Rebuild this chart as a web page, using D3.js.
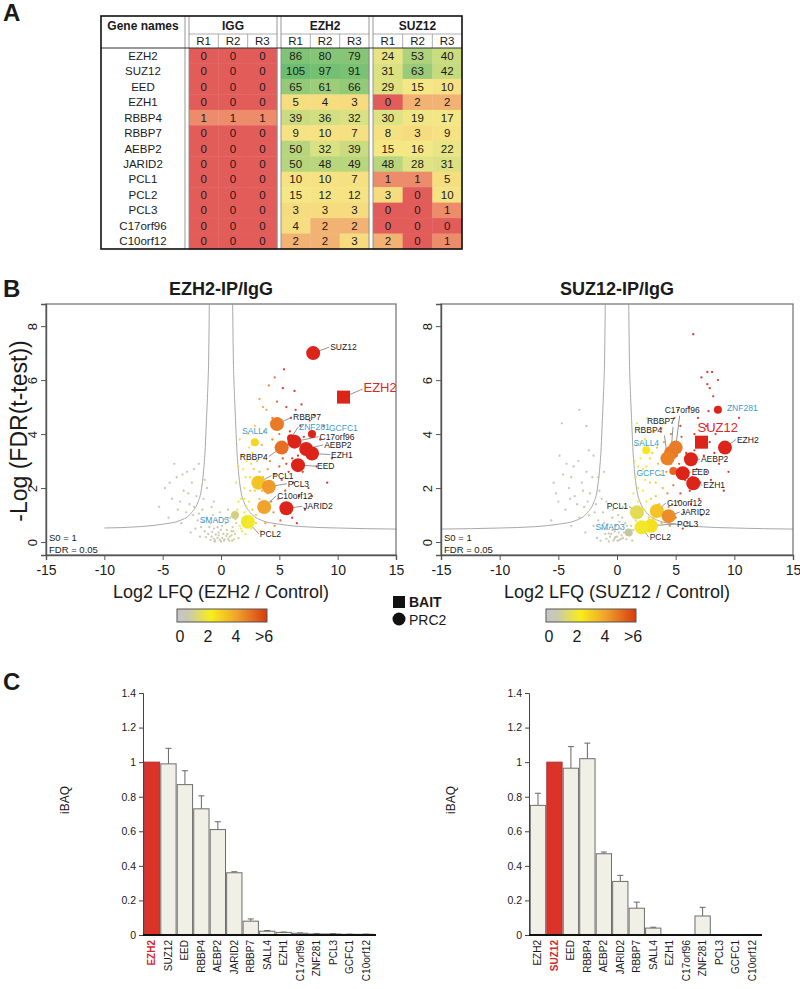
<!DOCTYPE html>
<html><head><meta charset="utf-8">
<script src="https://cdn.jsdelivr.net/npm/d3@7"></script>
<style>
body{margin:0;background:#fff}
svg{display:block}
text{font-family:"Liberation Sans",Arial,Helvetica,sans-serif}
</style>
</head><body>
<svg id="fig" width="800" height="989"></svg>
<script>
// ---------------- DATA ----------------
const tableGenes = ["EZH2","SUZ12","EED","EZH1","RBBP4","RBBP7","AEBP2","JARID2","PCL1","PCL2","PCL3","C17orf96","C10orf12"];
const tableGroups = ["IGG","EZH2","SUZ12"];
const tableReps = ["R1","R2","R3"];
const iggCounts = [[0,0,0],[0,0,0],[0,0,0],[0,0,0],[1,1,1],[0,0,0],[0,0,0],[0,0,0],[0,0,0],[0,0,0],[0,0,0],[0,0,0],[0,0,0]];
const ezh2Counts = [[86,80,79],[105,97,91],[65,61,66],[5,4,3],[39,36,32],[9,10,7],[50,32,39],[50,48,49],[10,10,7],[15,12,12],[3,3,3],[4,2,2],[2,2,3]];
const suz12Counts = [[24,53,40],[31,63,42],[29,15,10],[0,2,2],[30,19,17],[8,3,9],[15,16,22],[48,28,31],[1,1,5],[3,0,10],[0,0,1],[0,0,0],[2,0,1]];

const volcanoXTicks = [-15,-10,-5,0,5,10,15];
const volcanoYTicks = [0,2,4,6,8];
// threshold curve (|log2 ratio|, -log FDR), right branch; mirrored for left
const thresholdCurve = [[1.0,8.8],[1.05,7.0],[1.15,5.5],[1.25,4.5],[1.35,3.5],[1.5,2.6],[1.7,1.9],[2.0,1.45],[2.5,1.1],[3.5,0.8],[5,0.66],[7,0.57],[10,0.52],[15,0.48]];

// background proteins [log2 ratio, -log FDR, colour value]
const ezh2Bg = [
 [-0.5,0.05,0.3],[0,0.02,0.2],[0.3,0.1,0.4],[-0.3,0.15,0.3],[0.6,0.12,0.5],[-0.8,0.2,0.3],[0.9,0.25,0.6],[-1.1,0.3,0.3],[0.2,0.3,0.4],[-0.2,0.35,0.3],
 [1.2,0.3,0.8],[-1.4,0.4,0.3],[0.5,0.45,0.5],[-0.6,0.5,0.3],[1.0,0.55,0.7],[-1.7,0.55,0.2],[0.1,0.6,0.4],[-0.9,0.7,0.3],[-2.0,0.8,0.2],[1.3,0.7,0.9],
 [-1.2,0.9,0.3],[-2.4,1.0,0.2],[-0.4,0.8,0.3],[-3.0,1.1,0.2],[-1.6,1.2,0.2],[-2.7,1.4,0.2],[-3.5,1.5,0.2],[-2.1,1.7,0.2],[-4.2,1.6,0.2],[-3.2,1.9,0.2],
 [-2.5,2.2,0.2],[-4.8,2.0,0.2],[-3.8,2.4,0.2],[-5.3,1.3,0.2],[-4.5,0.9,0.2],[-2.9,2.6,0.2],[-1.9,2.9,0.2],[-3.4,0.7,0.2],[-0.7,1.0,0.3],[0.8,0.9,0.6],
 [-0.1,1.1,0.4],[1.4,1.0,1.0],[-1.5,1.6,0.2],[-2.2,0.5,0.2],[0.7,0.05,0.5],[-0.9,0.08,0.3],[1.5,0.15,0.9],[-1.8,0.2,0.2],[0.4,0.7,0.5],[-2.6,0.35,0.2],
 [-0.2,0.25,0.3],[0.1,0.15,0.4],[-0.6,0.12,0.3],[0.45,0.22,0.5],[-1.3,0.18,0.3],[1.1,0.1,0.7],[-4.0,2.9,0.2],[-1.4,2.3,0.2],[-0.6,1.5,0.3],[0.9,0.4,0.6],
 [-0.1,0.08,0.3],[0.25,0.05,0.4],[0.55,0.3,0.5],[-0.45,0.28,0.3],[0.75,0.2,0.5],[-0.75,0.38,0.3],[1.05,0.4,0.7],[-1.0,0.55,0.3],[0.35,0.85,0.4],[-0.3,0.55,0.3],
 [1.25,0.85,0.9],[-1.5,0.75,0.2],[0.6,1.2,0.5],[-0.8,1.3,0.3],[-2.3,1.3,0.2],[-1.9,1.05,0.2],[-3.7,1.2,0.2],[-2.8,1.8,0.2],[-4.4,2.2,0.2],[-1.2,2.0,0.2],
 [-3.3,2.5,0.2],[-2.3,2.7,0.2],[0.0,0.45,0.3],[-0.55,0.02,0.3],[0.95,0.05,0.6],
 [1.6,0.6,2],[1.9,0.9,2],[2.2,1.3,2.5],[1.7,1.6,2],[2.5,1.9,3],[2.1,2.4,2.5],[2.8,2.7,3],[1.8,3.2,2],[2.4,3.5,2.5],[3.0,1.0,3],
 [3.3,1.6,3.5],[2.6,0.5,2.5],[3.6,2.4,3.5],[3.1,3.0,3.5],[2.0,2.0,2],[3.8,0.7,4],[1.5,2.8,1.8],[2.3,4.0,2.5],[3.5,3.6,3.5],[2.9,4.3,3],
 [1.4,1.2,1.8],[4.0,1.8,4],[2.7,1.2,3],[3.4,0.4,3],[1.3,2.2,1.5],[1.8,0.4,2],[2.3,0.7,2.3],[2.0,1.6,2.2],[3.2,2.1,3.3],[2.6,2.9,2.8],
 [1.7,0.5,2],[2.0,1.1,2.2],[2.4,1.5,2.5],[2.9,1.9,3],[1.9,2.7,2],[2.7,3.3,2.8],[3.3,2.6,3.4],[2.2,3.0,2.3],[1.5,1.5,1.8],[3.0,0.7,3],
 [2.5,2.4,2.6],[3.7,3.1,3.8],[1.6,3.8,1.9],[2.1,0.3,2.2],[3.5,1.9,3.6],
 [4.2,3.0,4.5],[4.6,2.5,5],[5.0,4.0,5],[4.4,4.6,4.5],[5.3,3.1,5.5],[5.8,2.6,6],[4.9,1.6,5],[5.5,1.9,5.5],[6.2,2.2,6],[6.7,1.7,6],
 [7.0,2.6,6],[5.1,0.8,5],[4.5,1.1,4.5],[6.0,4.6,6],[6.8,4.3,6],[3.9,4.9,4],[4.8,5.2,5],[5.4,6.4,6],[4.1,5.8,4.5],[3.3,5.3,4],
 [6.3,5.6,6],[7.5,2.0,6],[8.2,2.8,6],[9.1,2.2,6],[7.2,1.2,6],[6.1,0.9,6],[5.7,3.6,6],[4.7,3.5,5],[3.7,4.1,4],[8.0,4.7,6],
 [5.6,5.0,6],[6.6,3.2,6],[4.3,2.1,4.5],[5.2,2.3,5.3],[3.9,1.3,4],[4.6,0.6,4.5],[5.9,1.4,6],[6.5,0.7,6],[7.8,1.7,6],[8.5,3.8,6],
 [4.4,3.8,4.6],[5.0,2.8,5.2],[5.6,2.9,5.8],[6.1,3.1,6],[4.8,4.4,5],[5.9,4.1,6],[6.4,4.9,6],[7.1,3.9,6],[7.6,4.5,6],[4.3,1.5,4.5],
 [4.0,2.7,4.2],[5.3,5.7,6],[6.9,5.1,6],[8.8,4.3,6],[9.5,3.1,6],[3.6,5.0,4],[4.6,6.1,5]
];
const suz12Bg = [
 [-0.3,0.05,0.3],[0.2,0.08,0.3],[0.5,0.15,0.4],[-0.6,0.2,0.3],[0.8,0.1,0.5],[-1.0,0.3,0.3],[1.1,0.25,0.6],[-0.2,0.4,0.3],[0.3,0.5,0.4],[-1.3,0.5,0.3],
 [1.4,0.45,0.8],[-0.8,0.65,0.3],[0.7,0.7,0.5],[-1.6,0.8,0.2],[-2.0,0.6,0.2],[1.6,0.8,1.0],[-0.4,0.9,0.3],[-2.4,1.0,0.2],[0.1,1.0,0.3],[-1.2,1.1,0.2],
 [-2.8,1.3,0.2],[-3.2,0.9,0.2],[-1.8,1.4,0.2],[-3.6,1.7,0.2],[-2.3,1.8,0.2],[-4.1,2.0,0.2],[-3.0,2.2,0.2],[-4.6,2.5,0.2],[-3.7,2.8,0.2],[-2.6,2.6,0.2],
 [-5.0,1.5,0.2],[-4.4,1.2,0.2],[-5.4,2.2,0.2],[-3.3,3.0,0.2],[-4.9,3.2,0.2],[-2.1,2.4,0.2],[-1.5,1.9,0.2],[-0.9,1.5,0.2],[0.5,1.3,0.4],[-5.6,0.8,0.2],
 [-3.9,0.6,0.2],[-2.7,0.35,0.2],[-1.7,0.15,0.2],[1.9,0.35,1.2],[1.3,0.05,0.6],[-0.7,0.02,0.3],[0.0,0.2,0.3],[-0.1,0.6,0.3],[0.9,0.4,0.5],[-1.4,0.05,0.3],
 [-0.5,0.3,0.3],[0.4,0.25,0.3],[-0.2,0.12,0.3],[0.15,0.35,0.3],[-0.9,0.12,0.3],[-3.2,4.9,0.1],[-4.7,4.4,0.1],[-2.6,4.3,0.1],[-1.1,2.6,0.2],[-2.0,3.2,0.2],
 [-0.15,0.18,0.3],[0.35,0.12,0.3],[0.6,0.35,0.4],[-0.4,0.45,0.3],[0.85,0.6,0.5],[-0.7,0.32,0.3],[1.2,0.6,0.7],[-1.1,0.7,0.3],[0.2,0.75,0.3],[-0.35,1.2,0.3],
 [1.3,1.1,0.8],[-1.9,1.1,0.2],[-2.5,1.5,0.2],[-3.4,1.4,0.2],[-4.0,1.6,0.2],[-2.9,1.9,0.2],[-3.9,2.4,0.2],[-1.3,1.6,0.2],[-5.2,1.8,0.2],[-4.3,2.9,0.2],
 [-2.4,3.4,0.2],[-1.6,2.4,0.2],[0.05,0.05,0.3],[-0.9,0.5,0.3],[0.45,0.9,0.4],
 [1.5,0.9,2],[1.8,1.5,2],[2.2,1.9,2.3],[1.6,2.4,1.8],[2.5,2.8,2.6],[2.0,3.1,2.2],[2.9,1.6,3],[3.3,2.2,3.2],[2.7,0.9,2.8],[3.6,1.4,3.4],
 [2.4,3.8,2.5],[3.0,3.3,3],[1.9,4.2,2],[3.5,2.9,3.5],[2.3,1.2,2.4],[1.4,1.8,1.7],[3.9,2.0,3.8],[3.2,4.1,3.3],[2.6,4.6,2.7],[1.7,3.6,1.9],
 [3.8,0.7,3.6],[2.1,0.5,2.2],[3.1,0.4,3],[4.0,3.7,4],[1.8,2.8,2],[2.8,2.2,2.8],[3.4,1.1,3.3],[2.5,1.5,2.5],
 [1.6,0.5,1.9],[2.0,1.1,2.2],[2.4,2.3,2.5],[2.8,3.1,2.8],[1.8,2.0,2],[3.3,1.7,3.3],[2.2,2.7,2.3],[3.7,2.5,3.7],[1.5,3.0,1.8],[3.1,0.9,3.1],
 [2.6,0.4,2.6],[3.4,3.5,3.5],[2.0,3.7,2.1],[1.7,4.4,1.9],[3.8,4.2,3.9],
 [4.3,1.8,4.5],[4.8,2.1,5],[5.2,1.5,5.3],[4.6,4.0,4.8],[5.5,3.9,5.6],[5.9,3.3,6],[6.2,1.9,6],[6.8,2.7,6],[7.4,3.2,6],[7.0,1.6,6],
 [5.7,1.1,6],[4.9,4.6,5],[5.4,4.3,5.5],[6.6,4.0,6],[7.6,4.3,6],[8.3,3.3,6],[8.0,2.3,6],[9.5,2.6,6],[7.8,4.85,6],[10.4,4.6,6],
 [6.5,7.7,6],[7.7,6.3,6],[8.1,6.3,6],[7.2,6.1,6],[8.6,6.0,6],[7.7,5.85,6],[7.9,5.7,6],[8.2,5.4,6],[6.1,5.0,6],[4.5,0.6,4.5],
 [5.0,0.9,5],[6.0,0.7,6],[4.2,2.6,4.3],[7.2,1.0,6],[5.3,2.9,5.4],[6.4,2.4,6],[4.4,1.3,4.5],
 [4.6,2.9,4.8],[5.1,3.2,5.3],[5.8,2.3,6],[6.6,3.4,6],[7.1,2.2,6],[7.9,3.7,6],[8.7,2.9,6],[6.3,1.4,6],[5.4,1.8,5.6],[4.7,1.4,4.9],
 [5.2,4.9,5.4],[6.9,4.6,6],[8.4,4.0,6],[9.1,1.9,6],[4.1,4.4,4.1],[5.6,0.5,5.8],[7.6,2.6,6]
];

// highlighted proteins: name, log2 ratio, -log FDR, colour value, kind
const ezh2Marked = [
 {name:"SUZ12",x:7.9,y:7.0,c:6,kind:"prc2"},
 {name:"EZH2",x:10.5,y:5.37,c:6,kind:"bait"},
 {name:"RBBP7",x:4.8,y:4.37,c:4.6,kind:"prc2"},
 {name:"ZNF281",x:6.0,y:3.85,c:6,kind:"other"},
 {name:"GCFC1",x:7.8,y:4.0,c:6,kind:"other"},
 {name:"SALL4",x:2.9,y:3.7,c:2.8,kind:"other"},
 {name:"RBBP4",x:5.2,y:3.5,c:4.8,kind:"prc2"},
 {name:"C17orf96",x:6.3,y:3.72,c:6,kind:"prc2"},
 {name:"AEBP2",x:7.3,y:3.45,c:6,kind:"prc2"},
 {name:"EZH1",x:7.8,y:3.28,c:6,kind:"prc2"},
 {name:"EED",x:6.6,y:2.85,c:6,kind:"prc2"},
 {name:"PCL1",x:3.2,y:2.2,c:3.2,kind:"prc2"},
 {name:"PCL3",x:4.1,y:2.05,c:4.1,kind:"prc2"},
 {name:"C10orf12",x:3.7,y:1.3,c:3.9,kind:"prc2"},
 {name:"JARID2",x:5.6,y:1.25,c:6,kind:"prc2"},
 {name:"SMAD3",x:1.2,y:1.0,c:0.9,kind:"other"},
 {name:"PCL2",x:2.3,y:0.75,c:2.1,kind:"prc2"}
];
const suz12Marked = [
 {name:"ZNF281",x:8.6,y:4.9,c:6,kind:"other"},
 {name:"SUZ12",x:7.2,y:3.7,c:6,kind:"bait"},
 {name:"EZH2",x:9.2,y:3.5,c:6,kind:"prc2"},
 {name:"C17orf96",x:5.0,y:3.5,c:4.6,kind:"prc2"},
 {name:"RBBP7",x:4.6,y:3.3,c:4.6,kind:"prc2"},
 {name:"RBBP4",x:4.3,y:3.1,c:4.5,kind:"prc2"},
 {name:"SALL4",x:2.5,y:3.4,c:2.4,kind:"other"},
 {name:"AEBP2",x:6.3,y:3.07,c:6,kind:"prc2"},
 {name:"GCFC1",x:4.8,y:2.63,c:5,kind:"other"},
 {name:"EED",x:5.6,y:2.55,c:6,kind:"prc2"},
 {name:"EZH1",x:6.5,y:2.18,c:6,kind:"prc2"},
 {name:"PCL1",x:1.7,y:1.1,c:1.5,kind:"prc2"},
 {name:"C10orf12",x:3.4,y:1.15,c:3.2,kind:"prc2"},
 {name:"JARID2",x:4.4,y:0.96,c:4.3,kind:"prc2"},
 {name:"SMAD3",x:1.0,y:0.35,c:0.4,kind:"other"},
 {name:"PCL3",x:2.9,y:0.6,c:2.6,kind:"prc2"},
 {name:"PCL2",x:2.1,y:0.55,c:2.1,kind:"prc2"}
];

const legendTicks = [0,2,4,6];
const legendTickLabels = ["0","2","4",">6"];

const barTicks = [0,0.2,0.4,0.6,0.8,1,1.2,1.4];
const barNamesL = ["EZH2","SUZ12","EED","RBBP4","AEBP2","JARID2","RBBP7","SALL4","EZH1","C17orf96","ZNF281","PCL3","GCFC1","C10orf12"];
const barValsL  = [1.0,0.99,0.87,0.73,0.61,0.36,0.08,0.022,0.015,0.01,0.006,0.006,0.004,0.004];
const barErrL   = [0,0.09,0.08,0.075,0.045,0.006,0.013,0.004,0.002,0.002,0.003,0.002,0.001,0.001];
const barNamesR = ["EZH2","SUZ12","EED","RBBP4","AEBP2","JARID2","RBBP7","SALL4","EZH1","C17orf96","ZNF281","PCL3","GCFC1","C10orf12"];
const barValsR  = [0.75,1.0,0.965,1.02,0.47,0.31,0.155,0.04,0.003,0.002,0.11,0.003,0.002,0.003];
const barErrR   = [0.07,0,0.125,0.09,0.01,0.035,0.035,0.005,0,0,0.05,0,0,0];

// ---------------- LAYOUT / STYLE ----------------
const svg = d3.select("#fig");
const ink = "#1a1a1a";

[["A",21],["B",297],["C",690]].forEach(([t,yy])=>{
  svg.append("text").attr("x",3).attr("y",yy).attr("font-size",24).attr("font-weight","bold").attr("fill",ink).text(t);
});

// ---------------- TABLE ----------------
(function(){
  const g = svg.append("g");
  const tx0=101, tx1=462, ty0=16, tyH1=34, tyH2=48, ty1=249;
  const grpX=[[189,277],[281,369],[373,462]];
  const rowH=(ty1-tyH2)/tableGenes.length;
  const heat = d3.scaleLinear()
    .domain([0,1,2,3,15,30,50,65,105])
    .range(["#e25c5a","#ec8c6b","#f2b273","#f6dc7f","#f6e785","#dde283","#b6d57c","#94ca77","#6cbd71"]);
  const mats=[iggCounts,ezh2Counts,suz12Counts];
  mats.forEach((mat,gi)=>{
    const [gx0,gx1]=grpX[gi]; const cw=(gx1-gx0)/3;
    mat.forEach((row,i)=>row.forEach((v,r)=>{
      g.append("rect").attr("x",gx0+r*cw).attr("y",tyH2+i*rowH).attr("width",cw+0.4).attr("height",rowH+0.4).attr("fill",heat(v));
    }));
    mat.forEach((row,i)=>row.forEach((v,r)=>{
      g.append("text").attr("x",gx0+(r+0.5)*cw).attr("y",tyH2+(i+0.5)*rowH+4).attr("text-anchor","middle")
        .attr("font-size",11.5).attr("fill",ink).text(v);
    }));
    g.append("text").attr("x",(gx0+gx1)/2).attr("y",30).attr("text-anchor","middle").attr("font-size",12).attr("font-weight","bold").attr("fill",ink).text(tableGroups[gi]);
    tableReps.forEach((rp,r)=>{
      g.append("text").attr("x",gx0+(r+0.5)*cw).attr("y",45).attr("text-anchor","middle").attr("font-size",11.5).attr("fill",ink).text(rp);
      if(r>0) g.append("line").attr("x1",gx0+r*cw).attr("x2",gx0+r*cw).attr("y1",tyH1).attr("y2",tyH2).attr("stroke","#9a9a9a").attr("stroke-width",0.8);
    });
    g.append("line").attr("x1",gx0).attr("x2",gx1).attr("y1",tyH1).attr("y2",tyH1).attr("stroke","#9a9a9a").attr("stroke-width",0.8);
  });
  g.append("text").attr("x",143).attr("y",30).attr("text-anchor","middle").attr("font-size",12).attr("font-weight","bold").attr("fill",ink).text("Gene names");
  tableGenes.forEach((n,i)=>{
    g.append("text").attr("x",143).attr("y",tyH2+(i+0.5)*rowH+4).attr("text-anchor","middle").attr("font-size",11.5).attr("fill",ink).text(n);
  });
  [185,189,277,281,369,373].forEach(xx=>{
    g.append("line").attr("x1",xx).attr("x2",xx).attr("y1",ty0).attr("y2",ty1).attr("stroke","#8a8a8a").attr("stroke-width",0.9);
  });
  g.append("line").attr("x1",tx0).attr("x2",tx1).attr("y1",tyH2).attr("y2",tyH2).attr("stroke","#333").attr("stroke-width",1);
  g.append("rect").attr("x",tx0).attr("y",ty0).attr("width",tx1-tx0).attr("height",ty1-ty0).attr("fill","none").attr("stroke","#111").attr("stroke-width",1.6);
})();

// ---------------- VOLCANO ----------------
const dotColor = d3.scaleLinear().domain([0,2.3,4,6]).range(["#bdbdbd","#f6ec1c","#f0a02c","#dc2419"]).clamp(true);
const labelBlue = "#3a9bd2", baitRed = "#e02424";

const ezh2Layout = {
  SUZ12:{dx:17,dy:-3}, EZH2:{dx:20,dy:-5}, RBBP7:{dx:16,dy:-4}, ZNF281:{dx:8,dy:-8},
  GCFC1:{dx:17,dy:-3,noLine:true}, SALL4:{dx:0,dy:-8,anchor:"middle",noLine:true},
  RBBP4:{dx:-14,dy:12,anchor:"end"}, C17orf96:{dx:25,dy:-2}, AEBP2:{dx:18,dy:-1},
  EZH1:{dx:19,dy:4}, EED:{dx:19,dy:4}, PCL1:{dx:14,dy:-4}, PCL3:{dx:19,dy:0},
  C10orf12:{dx:13,dy:-8}, JARID2:{dx:17,dy:1}, SMAD3:{dx:-6,dy:8,anchor:"end",noLine:true}, PCL2:{dx:12,dy:15}
};
const suz12Layout = {
  ZNF281:{dx:9,dy:1,noLine:true}, SUZ12:{dx:-4,dy:-10,noLine:true}, EZH2:{dx:12,dy:-5},
  C17orf96:{dx:-11,dy:-35,lx:4,ly:-32}, RBBP7:{dx:-24,dy:-29,lx:2,ly:-26}, RBBP4:{dx:-33,dy:-25,lx:-3,ly:-23},
  SALL4:{dx:0,dy:-4,anchor:"middle",noLine:true}, AEBP2:{dx:10,dy:3}, GCFC1:{dx:-8,dy:5,anchor:"end",noLine:true},
  EED:{dx:9,dy:2}, EZH1:{dx:10,dy:5}, PCL1:{dx:-9,dy:-3,anchor:"end"}, C10orf12:{dx:10,dy:-5},
  JARID2:{dx:12,dy:-1}, SMAD3:{dx:-4,dy:-3,anchor:"end",noLine:true}, PCL3:{dx:26,dy:1}, PCL2:{dx:8,dy:13}
};

function volcano(cfg){
  const g = svg.append("g");
  const x = d3.scaleLinear([-15,15],[cfg.x0,cfg.x1]);
  const y = d3.scaleLinear([-0.48,8.82],[555,304]);
  const clipId = "clip"+cfg.id;
  g.append("clipPath").attr("id",clipId).append("rect").attr("x",cfg.x0).attr("y",304).attr("width",cfg.x1-cfg.x0).attr("height",251);
  const inner = g.append("g").attr("clip-path",`url(#${clipId})`);

  const line = d3.line().x(d=>x(d[0])).y(d=>y(d[1])).curve(d3.curveMonotoneX);
  const rightBranch = thresholdCurve;
  const leftBranch = thresholdCurve.map(p=>[-p[0],p[1]]).reverse().filter(p=>p[0]>=cfg.curveMin);
  [rightBranch,leftBranch].forEach(br=>{
    inner.append("path").attr("d",line(br)).attr("fill","none").attr("stroke","#a8a8a8").attr("stroke-width",1);
  });

  inner.selectAll("circle.bg").data(cfg.bg).join("circle")
    .attr("cx",d=>x(d[0])).attr("cy",d=>y(d[1])).attr("r",1.15)
    .attr("fill",d=>dotColor(d[2])).attr("opacity",0.9);

  g.append("rect").attr("x",cfg.x0).attr("y",304).attr("width",cfg.x1-cfg.x0).attr("height",251)
    .attr("fill","none").attr("stroke","#6e6e6e").attr("stroke-width",1.2);
  const xa = g.append("g").attr("transform","translate(0,555)")
    .call(d3.axisBottom(x).tickValues(volcanoXTicks).tickSize(5).tickPadding(5).tickFormat(d=>String(d)));
  xa.select(".domain").attr("stroke","#555").attr("stroke-width",1.4);
  xa.selectAll(".tick line").attr("stroke","#555");
  xa.selectAll("text").attr("font-size",14).attr("fill",ink).attr("font-family",null);
  const ya = g.append("g").attr("transform",`translate(${cfg.x0},0)`)
    .call(d3.axisLeft(y).tickValues(volcanoYTicks).tickSize(5).tickFormat(d=>String(d)));
  ya.select(".domain").attr("stroke","#555").attr("stroke-width",1.4);
  ya.selectAll(".tick line").attr("stroke","#555");
  ya.selectAll("text").attr("font-size",13).attr("fill",ink).attr("font-family",null)
    .attr("transform","rotate(-90)").attr("x",0).attr("y",-9).attr("dy",0).attr("text-anchor","middle");

  const marks = cfg.marked;
  const lg = g.append("g");
  marks.forEach(m=>{
    const L = cfg.layout[m.name]; if(!L || L.noLine) return;
    const px=x(m.x), py=y(m.y);
    const anchor = L.anchor||"start";
    const lx = L.lx!==undefined ? L.lx : (anchor==="end" ? L.dx+1 : L.dx-1);
    const ly = L.ly!==undefined ? L.ly : L.dy-3;
    lg.append("line").attr("x1",px).attr("y1",py).attr("x2",px+lx).attr("y2",py+ly)
      .attr("stroke","#666").attr("stroke-width",0.7);
  });
  marks.forEach(m=>{
    const px=x(m.x), py=y(m.y);
    if(m.kind==="bait"){
      g.append("rect").attr("x",px-6.5).attr("y",py-6.5).attr("width",13).attr("height",13).attr("fill",dotColor(m.c));
    } else {
      g.append("circle").attr("cx",px).attr("cy",py).attr("r",m.kind==="prc2"?7:4).attr("fill",dotColor(m.c));
    }
  });
  marks.forEach(m=>{
    const L = cfg.layout[m.name]; if(!L) return;
    const px=x(m.x), py=y(m.y);
    const t = g.append("text").attr("x",px+L.dx).attr("y",py+L.dy).attr("text-anchor",L.anchor||"start").text(m.name);
    if(m.kind==="bait") t.attr("font-size",13).attr("fill",baitRed);
    else if(m.kind==="other") t.attr("font-size",8.5).attr("fill",labelBlue);
    else t.attr("font-size",8.5).attr("fill",ink);
  });

  g.append("text").attr("x",cfg.x0+3).attr("y",541).attr("font-size",9.5).attr("fill",ink).text("S0 = 1");
  g.append("text").attr("x",cfg.x0+3).attr("y",553).attr("font-size",9.5).attr("fill",ink).text("FDR = 0.05");

  g.append("text").attr("x",(cfg.x0+cfg.x1)/2).attr("y",295).attr("text-anchor","middle").attr("font-size",18).attr("font-weight","bold").attr("fill",ink).text(cfg.title);
  g.append("text").attr("x",(cfg.x0+cfg.x1)/2).attr("y",598).attr("text-anchor","middle").attr("font-size",18).attr("fill",ink).text(cfg.xlabel);

  const gid = "grad"+cfg.id;
  const grad = svg.append("defs").append("linearGradient").attr("id",gid);
  [[0,"#c6c6c6"],[0.12,"#c9c8b4"],[0.38,"#f7ee1a"],[0.66,"#f1a32b"],[1,"#d83a10"]].forEach(([o,c])=>{
    grad.append("stop").attr("offset",o).attr("stop-color",c);
  });
  g.append("rect").attr("x",cfg.cbX).attr("y",609).attr("width",90).attr("height",13)
    .attr("fill",`url(#${gid})`).attr("stroke","#555").attr("stroke-width",1);
  const cs = d3.scaleLinear([0,6],[cfg.cbX+3,cfg.cbX+87]);
  legendTicks.forEach((v,i)=>{
    g.append("text").attr("x",cs(v)).attr("y",642).attr("text-anchor","middle").attr("font-size",16).attr("fill",ink).text(legendTickLabels[i]);
  });
}

volcano({id:"L",x0:46,x1:396,title:"EZH2-IP/IgG",xlabel:"Log2 LFQ (EZH2 / Control)",bg:ezh2Bg,marked:ezh2Marked,layout:ezh2Layout,curveMin:-10.3,cbX:177});
volcano({id:"R",x0:441,x1:793,title:"SUZ12-IP/IgG",xlabel:"Log2 LFQ (SUZ12 / Control)",bg:suz12Bg,marked:suz12Marked,layout:suz12Layout,curveMin:-15,cbX:546});

svg.append("text").attr("transform","translate(27,431) rotate(-90)").attr("text-anchor","middle")
  .attr("font-size",23).attr("fill",ink).text("-Log (FDR(t-test))");

svg.append("rect").attr("x",393).attr("y",596).attr("width",12).attr("height",12).attr("fill","#111");
svg.append("text").attr("x",409).attr("y",607).attr("font-size",14).attr("font-weight","bold").attr("fill",ink).text("BAIT");
svg.append("circle").attr("cx",399).attr("cy",619).attr("r",6.5).attr("fill","#111");
svg.append("text").attr("x",409).attr("y",625).attr("font-size",14).attr("fill",ink).text("PRC2");

// ---------------- BAR CHARTS ----------------
function bars(cfg){
  const g = svg.append("g");
  const y = d3.scaleLinear([0,1.4],[935,693]);
  const x = d3.scaleBand(cfg.names,[cfg.ax+1,cfg.ax+231]).paddingInner(0.07).paddingOuter(0.02);
  cfg.names.forEach((n,i)=>{
    const v = cfg.vals[i], e = cfg.errs[i];
    const bx = x(n), bw = x.bandwidth(), cx = bx+bw/2;
    if(e>0){
      g.append("line").attr("x1",cx).attr("x2",cx).attr("y1",y(v)).attr("y2",y(v+e)).attr("stroke","#666").attr("stroke-width",1);
      g.append("line").attr("x1",cx-3).attr("x2",cx+3).attr("y1",y(v+e)).attr("y2",y(v+e)).attr("stroke","#666").attr("stroke-width",1);
    }
    const hl = i===cfg.hl;
    g.append("rect").attr("x",bx).attr("y",y(v)).attr("width",bw).attr("height",y(0)-y(v))
      .attr("fill",hl?"#dc3328":"#f1f0e6").attr("stroke",hl?"#a33":"#6e6e6e").attr("stroke-width",1);
    g.append("text").attr("transform",`translate(${cx+3.5},940) rotate(-90)`).attr("text-anchor","end")
      .attr("font-size",10).attr("font-weight",hl?"bold":"normal").attr("fill",hl?"#d62a2a":ink).text(n);
  });
  const ya = g.append("g").attr("transform",`translate(${cfg.ax},0)`)
    .call(d3.axisLeft(y).tickValues(barTicks).tickSize(4).tickPadding(3).tickFormat(d=>String(d)));
  ya.select(".domain").attr("stroke","#444");
  ya.selectAll(".tick line").attr("stroke","#444");
  ya.selectAll("text").attr("font-size",10.5).attr("fill",ink).attr("font-family",null);
  g.append("line").attr("x1",cfg.ax).attr("x2",cfg.ax+233).attr("y1",935).attr("y2",935).attr("stroke","#111").attr("stroke-width",2);
  g.append("text").attr("transform",`translate(${cfg.ax-74},800) rotate(-90)`).attr("text-anchor","middle")
    .attr("font-size",12).attr("fill",ink).text("iBAQ");
}
bars({ax:143,names:barNamesL,vals:barValsL,errs:barErrL,hl:0});
bars({ax:529,names:barNamesR,vals:barValsR,errs:barErrR,hl:1});
</script>
</body></html>
